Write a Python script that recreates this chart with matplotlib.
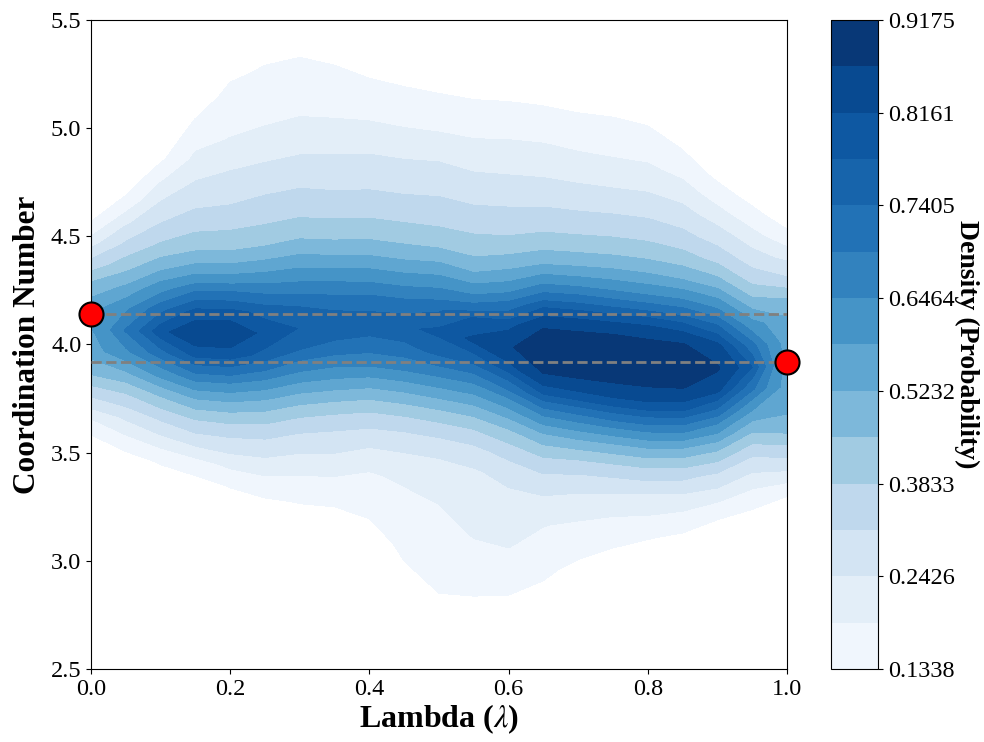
import numpy as np
import matplotlib.pyplot as plt

# Times-like serif text, math lambda in italic
plt.rcParams['font.family'] = ['Liberation Serif', 'DejaVu Serif']
plt.rcParams['mathtext.fontset'] = 'stix'

# lambda columns of the density map
lambdas = [0.00, 0.05, 0.10, 0.15, 0.20, 0.25, 0.30, 0.35, 0.40, 0.45, 0.50,
           0.55, 0.60, 0.65, 0.70, 0.75, 0.80, 0.85, 0.90, 0.95, 1.00]
# coordination number of the densest point in each column
ridge_cn = [4.07, 4.065, 4.06, 4.05, 4.045, 4.055, 4.075, 4.09, 4.10, 4.08, 4.06,
            4.02, 3.99, 3.97, 3.95, 3.93, 3.91, 3.90, 3.89, 3.895, 3.905]
# distance above/below that ridge where the density was read
offsets = [-1.4, -1.2, -1.0, -0.9, -0.8, -0.7, -0.6, -0.5, -0.4, -0.3, -0.2, -0.1, 0.0,
           0.1, 0.2, 0.3, 0.4, 0.5, 0.6, 0.7, 0.8, 0.9, 1.0, 1.1, 1.2, 1.4]

# density per lambda column (one value per offset)
dens_000 = [0.000, 0.000, 0.010, 0.015, 0.025, 0.045, 0.075, 0.125, 0.200, 0.325, 0.468, 0.555, 0.580,
            0.560, 0.482, 0.339, 0.216, 0.132, 0.080, 0.050, 0.030, 0.020, 0.010, 0.005, 0.000, 0.000]
dens_005 = [0.000, 0.005, 0.015, 0.025, 0.040, 0.065, 0.105, 0.177, 0.254, 0.371, 0.509, 0.634, 0.700,
            0.636, 0.533, 0.424, 0.320, 0.228, 0.147, 0.090, 0.060, 0.040, 0.025, 0.015, 0.010, 0.000]
dens_010 = [0.005, 0.010, 0.025, 0.040, 0.060, 0.090, 0.142, 0.220, 0.322, 0.455, 0.605, 0.723, 0.805,
            0.729, 0.622, 0.500, 0.393, 0.310, 0.243, 0.184, 0.122, 0.085, 0.060, 0.040, 0.028, 0.012]
dens_015 = [0.005, 0.015, 0.035, 0.050, 0.075, 0.110, 0.165, 0.262, 0.380, 0.525, 0.675, 0.790, 0.850,
            0.795, 0.690, 0.550, 0.435, 0.360, 0.295, 0.245, 0.205, 0.170, 0.132, 0.105, 0.080, 0.045]
dens_020 = [0.010, 0.020, 0.045, 0.065, 0.095, 0.137, 0.203, 0.281, 0.396, 0.537, 0.681, 0.794, 0.850,
            0.798, 0.695, 0.554, 0.441, 0.371, 0.310, 0.265, 0.226, 0.193, 0.170, 0.148, 0.127, 0.090]
dens_025 = [0.010, 0.025, 0.055, 0.080, 0.115, 0.168, 0.225, 0.302, 0.407, 0.537, 0.670, 0.771, 0.805,
            0.764, 0.675, 0.560, 0.455, 0.383, 0.327, 0.279, 0.237, 0.205, 0.178, 0.160, 0.140, 0.105]
dens_030 = [0.015, 0.035, 0.070, 0.100, 0.138, 0.181, 0.228, 0.295, 0.395, 0.523, 0.646, 0.740, 0.778,
            0.740, 0.660, 0.564, 0.465, 0.390, 0.332, 0.285, 0.243, 0.212, 0.184, 0.164, 0.144, 0.105]
dens_035 = [0.020, 0.040, 0.080, 0.110, 0.150, 0.190, 0.238, 0.300, 0.395, 0.523, 0.640, 0.728, 0.770,
            0.725, 0.646, 0.544, 0.448, 0.377, 0.318, 0.280, 0.237, 0.205, 0.178, 0.156, 0.134, 0.095]
dens_040 = [0.030, 0.060, 0.105, 0.136, 0.161, 0.185, 0.225, 0.297, 0.395, 0.523, 0.646, 0.724, 0.765,
            0.718, 0.636, 0.533, 0.441, 0.372, 0.316, 0.276, 0.234, 0.200, 0.170, 0.142, 0.115, 0.070]
dens_045 = [0.060, 0.110, 0.150, 0.164, 0.178, 0.197, 0.230, 0.293, 0.395, 0.523, 0.646, 0.725, 0.772,
            0.720, 0.636, 0.533, 0.440, 0.372, 0.316, 0.272, 0.233, 0.197, 0.166, 0.137, 0.110, 0.065]
dens_050 = [0.090, 0.136, 0.163, 0.176, 0.190, 0.212, 0.234, 0.300, 0.404, 0.535, 0.656, 0.751, 0.790,
            0.735, 0.646, 0.544, 0.440, 0.372, 0.320, 0.277, 0.236, 0.197, 0.165, 0.134, 0.105, 0.060]
dens_055 = [0.085, 0.130, 0.175, 0.193, 0.208, 0.222, 0.238, 0.295, 0.395, 0.523, 0.646, 0.750, 0.825,
            0.784, 0.658, 0.535, 0.442, 0.377, 0.321, 0.274, 0.233, 0.200, 0.168, 0.137, 0.110, 0.065]
dens_060 = [0.075, 0.120, 0.174, 0.197, 0.213, 0.230, 0.256, 0.328, 0.431, 0.564, 0.695, 0.798, 0.860,
            0.802, 0.706, 0.585, 0.476, 0.391, 0.332, 0.283, 0.240, 0.207, 0.177, 0.143, 0.115, 0.070]
dens_065 = [0.060, 0.100, 0.149, 0.171, 0.193, 0.226, 0.280, 0.373, 0.496, 0.646, 0.780, 0.868, 0.895,
            0.868, 0.780, 0.658, 0.523, 0.419, 0.346, 0.291, 0.243, 0.210, 0.177, 0.143, 0.115, 0.070]
dens_070 = [0.040, 0.070, 0.115, 0.149, 0.178, 0.213, 0.260, 0.359, 0.506, 0.660, 0.789, 0.870, 0.915,
            0.873, 0.789, 0.670, 0.535, 0.428, 0.350, 0.290, 0.240, 0.204, 0.171, 0.140, 0.110, 0.065]
dens_075 = [0.025, 0.050, 0.090, 0.123, 0.160, 0.200, 0.252, 0.357, 0.506, 0.670, 0.798, 0.870, 0.9175,
            0.880, 0.792, 0.670, 0.544, 0.437, 0.356, 0.293, 0.239, 0.200, 0.171, 0.140, 0.110, 0.065]
dens_080 = [0.015, 0.030, 0.065, 0.095, 0.139, 0.190, 0.243, 0.354, 0.506, 0.670, 0.798, 0.869, 0.905,
            0.876, 0.798, 0.670, 0.544, 0.437, 0.356, 0.293, 0.239, 0.200, 0.165, 0.134, 0.105, 0.060]
dens_085 = [0.010, 0.025, 0.055, 0.080, 0.118, 0.173, 0.231, 0.339, 0.489, 0.658, 0.789, 0.867, 0.890,
            0.869, 0.780, 0.658, 0.523, 0.414, 0.332, 0.267, 0.217, 0.174, 0.134, 0.100, 0.075, 0.040]
dens_090 = [0.005, 0.015, 0.035, 0.055, 0.085, 0.134, 0.203, 0.288, 0.426, 0.585, 0.725, 0.828, 0.872,
            0.832, 0.740, 0.616, 0.482, 0.365, 0.280, 0.216, 0.165, 0.115, 0.085, 0.060, 0.045, 0.025]
dens_095 = [0.000, 0.010, 0.030, 0.045, 0.070, 0.110, 0.166, 0.230, 0.322, 0.455, 0.585, 0.705, 0.780,
            0.713, 0.609, 0.482, 0.362, 0.273, 0.211, 0.158, 0.105, 0.070, 0.050, 0.035, 0.025, 0.010]
dens_100 = [0.000, 0.005, 0.015, 0.025, 0.045, 0.080, 0.138, 0.230, 0.340, 0.475, 0.540, 0.555, 0.560,
            0.555, 0.540, 0.464, 0.317, 0.224, 0.151, 0.090, 0.055, 0.035, 0.020, 0.012, 0.008, 0.000]

density_cols = [dens_000, dens_005, dens_010, dens_015, dens_020, dens_025, dens_030,
                dens_035, dens_040, dens_045, dens_050, dens_055, dens_060, dens_065,
                dens_070, dens_075, dens_080, dens_085, dens_090, dens_095, dens_100]

# contour levels (every other one is labelled on the colorbar)
levels = [0.1338, 0.19, 0.2426, 0.31, 0.3833, 0.455, 0.5232, 0.585, 0.6464,
          0.695, 0.7405, 0.78, 0.8161, 0.865, 0.9175]
cbar_ticks = [0.1338, 0.2426, 0.3833, 0.5232, 0.6464, 0.7405, 0.8161, 0.9175]

# end-point coordination numbers (pure states)
end_lambda = [0.0, 1.0]
end_cn = [4.14, 3.92]

# grid that follows the ridge of each column
lam = np.array(lambdas)
off = np.array(offsets)
X = np.tile(lam, (len(off), 1))
Y = np.array(ridge_cn)[None, :] + off[:, None]
Z = np.array(density_cols).T

fig = plt.figure(figsize=(9.84, 7.42), dpi=100)
ax = fig.add_axes([0.0925, 0.0984, 0.7073, 0.8747])
cax = fig.add_axes([0.8445, 0.0984, 0.0478, 0.8747])

cs = ax.contourf(X, Y, Z, levels=levels, cmap='Blues')

# horizontal guides at the end-point values
for cn in end_cn:
    ax.plot([0, 1], [cn, cn], ls='--', color='gray', lw=2, zorder=3)
ax.scatter(end_lambda, end_cn, s=300, c='red', edgecolors='black',
           linewidths=1.5, zorder=5, clip_on=False)

ax.set_xlim(0, 1)
ax.set_ylim(2.5, 5.5)
ax.set_xticks(np.arange(0, 1.01, 0.2))
ax.set_yticks(np.arange(2.5, 5.51, 0.5))
ax.set_xticklabels([f'{v:.1f}' for v in np.arange(0, 1.01, 0.2)])
ax.set_yticklabels([f'{v:.1f}' for v in np.arange(2.5, 5.51, 0.5)])
ax.tick_params(labelsize=17.5)
ax.set_xlabel(r'Lambda ($\lambda$)', fontsize=23, fontweight='bold', labelpad=2)
ax.set_ylabel('Coordination Number', fontsize=22.5, fontweight='bold', labelpad=6)

cb = fig.colorbar(cs, cax=cax, ticks=cbar_ticks)
cb.ax.set_yticklabels([f'{t:.4f}' for t in cbar_ticks])
cb.ax.tick_params(labelsize=17.5)
cb.set_label('Density (Probability)', rotation=270, labelpad=0,
             fontsize=20, fontweight='bold')
cb.ax.yaxis.set_label_coords(3.15, 0.5)

fig.savefig('out.png', dpi=100)
